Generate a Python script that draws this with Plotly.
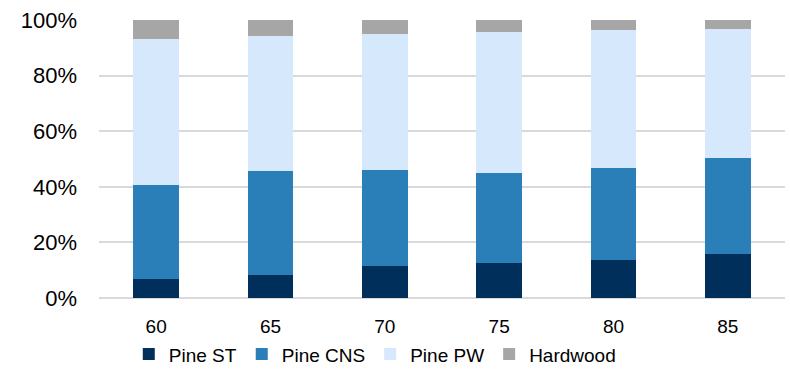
import plotly.graph_objects as go

# data (percent of total)
ages = ["60", "65", "70", "75", "80", "85"]
pine_st = [6.9, 8.4, 11.6, 12.7, 13.6, 15.8]
pine_cns = [33.9, 37.3, 34.6, 32.3, 33.2, 34.6]
pine_pw = [52.5, 48.7, 48.9, 50.8, 49.5, 46.4]
hardwood = [6.7, 5.6, 4.9, 4.2, 3.7, 3.2]

series = [
    ("Pine ST", pine_st, "#002F5C"),
    ("Pine CNS", pine_cns, "#2A7FB8"),
    ("Pine PW", pine_pw, "#D5E8FC"),
    ("Hardwood", hardwood, "#A6A6A6"),
]

traces = []
for name, vals, col in series:
    traces.append(
        go.Bar(
            x=ages,
            y=[v / 100 for v in vals],
            name=name,
            marker=dict(color=col, line=dict(width=0)),
        )
    )

layout = go.Layout(
    width=790, height=369,
    barmode="stack",
    bargap=0.6,
    plot_bgcolor="white",
    paper_bgcolor="white",
    font=dict(family="Liberation Sans, Arial, sans-serif", size=22, color="#000000"),
    margin=dict(l=99, r=5, t=20, b=71),
    xaxis=dict(
        type="category",
        showgrid=False,
        showline=False,
        ticks="",
        automargin=False,
        ticklabelstandoff=15,
        tickfont=dict(size=19),
    ),
    yaxis=dict(
        range=[0, 1],
        tickvals=[0, 0.2, 0.4, 0.6, 0.8, 1.0],
        tickformat=".0%",
        showgrid=True,
        gridcolor="#D9D9D9",
        gridwidth=2,
        zeroline=True,
        zerolinecolor="#D9D9D9",
        zerolinewidth=2,
        showline=False,
        ticks="",
        automargin=False,
        ticklabelstandoff=21,
        tickfont=dict(size=22),
    ),
    legend=dict(
        orientation="h",
        xref="container", yref="container",
        x=0.163, xanchor="left",
        y=0.04, yanchor="middle",
        traceorder="normal",
        itemwidth=30,
        font=dict(size=19),
        bgcolor="rgba(0,0,0,0)",
    ),
)

fig = go.Figure(traces, layout)
# drop the default page margin so the chart sits at the window's corner
fig.write_html("out.html", config={"displayModeBar": False},
               post_script="document.body.style.margin='0';")
